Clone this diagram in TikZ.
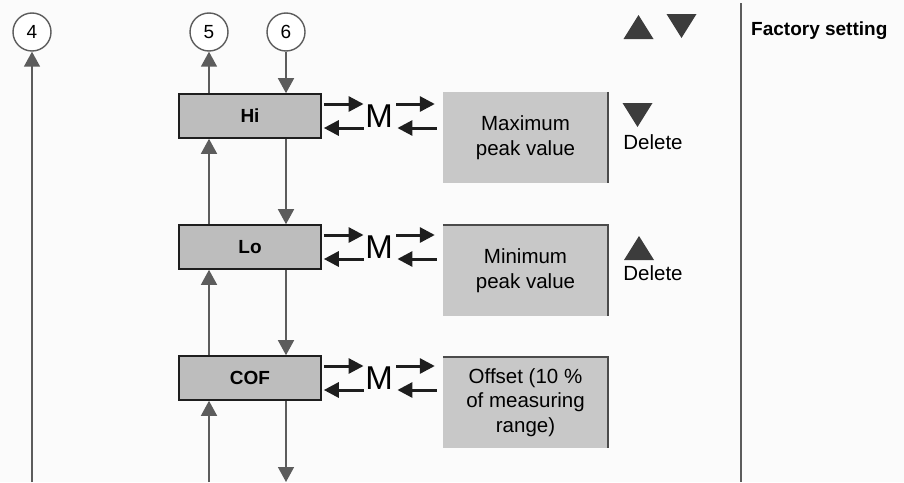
\documentclass[tikz,border=0pt]{standalone}
\usepackage{fontspec}
\setmainfont{Liberation Sans}
\usetikzlibrary{arrows.meta,positioning}
\definecolor{ink}{HTML}{1E1E1E}
\definecolor{wire}{HTML}{5C5C5C}
\definecolor{boxg}{HTML}{BDBDBD}
\definecolor{valg}{HTML}{C8C8C8}
\definecolor{trig}{HTML}{3C3C3C}
\tikzset{menu/.style={draw=ink,line width=1.6pt,fill=boxg,minimum width=142pt,minimum height=44pt,inner sep=0pt,font=\fontsize{19}{23}\selectfont\bfseries},
  val/.style={fill=valg,minimum width=165pt,minimum height=91pt,inner sep=0pt,align=center,font=\fontsize{20.5}{24.5}\selectfont},
  num/.style={circle,draw=wire,line width=1.4pt,fill=white,minimum size=38pt,inner sep=0pt,font=\fontsize{19}{23}\selectfont},
  flow/.style={draw=wire,line width=1.5pt,-{Triangle[width=16pt,length=15pt]}},
  mkey/.style={draw=ink,line width=3pt,-{Triangle[width=15pt,length=15pt]}},
  edge/.style={draw=ink!80,line width=1.6pt},
  lbl/.style={font=\fontsize{20.5}{24.5}\selectfont,inner sep=0pt},
  tri/.style={fill=trig}}
\newcommand{\tup}[1]{\fill[tri] (#1) ++(-15,12) -- ++(30,0) -- ++(-15,-24) -- cycle;}
\newcommand{\tdown}[1]{\fill[tri] (#1) ++(-15,-12) -- ++(30,0) -- ++(-15,24) -- cycle;}

\begin{document}
\begin{tikzpicture}[x=1pt,y=-1pt]
\fill[gray!3] (0,0) rectangle (904,482);
\useasboundingbox (0,0) rectangle (904,482);
% numbered exits
\node[num] (c4) at (32,32) {4};
\node[num] (c5) at (209,32) {5};
\node[num] (c6) at (286,32) {6};
% menu items
\node[menu] (hi) at (250,116) {Hi};
\node[menu] (lo) at (250,247) {Lo};
\node[menu] (cof) at (250,378) {COF};
% values
\node[val] (vmax) at (525.5,137.5) {Maximum\\peak value};
\node[val] (vmin) at (525.5,270.5) {Minimum\\peak value};
\node[val] (voff) at (525.5,402.5) {Offset (10 \%\\of measuring\\range)};
\draw[edge] (vmax.north east) -- (vmax.south east);
\draw[edge] (vmin.north west) -- (vmin.north east) -- (vmin.south east);
\draw[edge] (voff.north west) -- (voff.north east) -- (voff.south east);
% M keys
\foreach \m/\v in {hi/vmax,lo/vmin,cof/voff}{
  \node[inner sep=1.5pt,font=\fontsize{33}{36}\selectfont] (m\m) at ([xshift=129pt]\m.center) {M};
  \draw[mkey,shorten <=2pt] ([yshift=12pt]\m.east) -- ([yshift=12pt]\m.east -| m\m.west);
  \draw[mkey,shorten >=2pt] ([yshift=-12pt]\m.east -| m\m.west) -- ([yshift=-12pt]\m.east);
  \draw[mkey,shorten <=2pt,shorten >=8pt] ([yshift=12pt]\m.east -| m\m.east) -- ([yshift=12pt]\m.east -| \v.west);
  \draw[mkey,shorten <=6pt,shorten >=3pt] ([yshift=-12pt]\m.east -| \v.west) -- ([yshift=-12pt]\m.east -| m\m.east);
}
% flow lines
\coordinate (b4) at (32,482);
\coordinate (b5) at (209,482);
\coordinate (b6) at (286,482);
\draw[flow] (b4) -- (c4);
\draw[flow] (c5 |- hi.north) -- (c5);
\draw[flow] (c6) -- (c6 |- hi.north);
\draw[flow] (c5 |- lo.north) -- (c5 |- hi.south);
\draw[flow] (c6 |- hi.south) -- (c6 |- lo.north);
\draw[flow] (c5 |- cof.north) -- (c5 |- lo.south);
\draw[flow] (c6 |- lo.south) -- (c6 |- cof.north);
\draw[flow] (b5) -- (c5 |- cof.south);
\draw[flow] (c6 |- cof.south) -- (b6);
% keys and delete
\tup{638.5,27}
\tdown{681.5,26}
\tdown{637.5,115}
\node[lbl] (del1) at (653,142) {Delete};
\tup{639,248}
\node[lbl] (del2) at (653,273) {Delete};
% factory setting column
\draw[draw=wire,line width=1.5pt] (741,3) -- (741,482);
\node[anchor=west,inner sep=0pt,font=\fontsize{19}{23}\selectfont\bfseries] (fs) at (751,31) {Factory setting};
\end{tikzpicture}
\end{document}
